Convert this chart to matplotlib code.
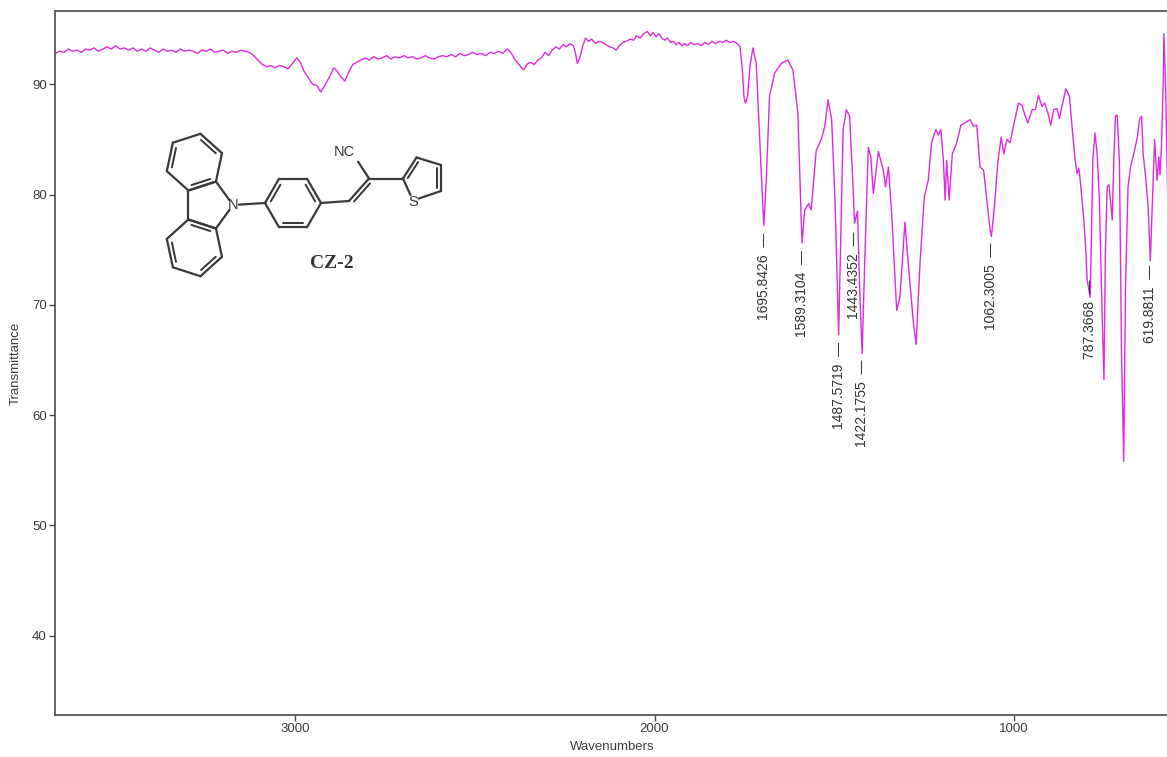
import numpy as np
import matplotlib
matplotlib.use("Agg")
import matplotlib.pyplot as plt

# ---------------- data ----------------
wavenumber = [
    3668, 3656, 3644, 3632, 3620, 3608, 3596, 3584, 3572, 3560, 3548, 3536, 3524, 3512, 3500,
    3488, 3476, 3464, 3452, 3440, 3428, 3416, 3404, 3392, 3380, 3368, 3356, 3344, 3332, 3320,
    3308, 3296, 3284, 3272, 3260, 3248, 3236, 3224, 3212, 3200, 3188, 3176, 3164, 3152, 3140,
    3128, 3116, 3104, 3092, 3080, 3068, 3056, 3044, 3032, 3020, 3008, 2996, 2986, 2976, 2964,
    2952, 2940, 2929, 2918, 2906, 2893, 2884, 2874, 2862, 2850, 2840, 2829, 2818,
    2806, 2794, 2782, 2770, 2758, 2746, 2734, 2722, 2710, 2698, 2686, 2674, 2662, 2650, 2638,
    2626, 2614, 2602, 2590, 2578, 2566, 2554, 2542, 2530, 2518, 2506, 2494, 2482, 2470, 2458,
    2446, 2434, 2422, 2410, 2400,
    2390, 2380, 2370, 2364, 2356, 2345, 2335, 2325, 2315, 2305, 2295, 2285, 2275, 2265, 2255,
    2245, 2235, 2226, 2220, 2215, 2208, 2200, 2192, 2184, 2175, 2165, 2155, 2145, 2135, 2125,
    2115, 2107, 2098, 2088, 2078, 2068, 2058, 2050, 2040, 2030, 2020, 2012, 2004, 1996, 1988,
    1980, 1972, 1964, 1956, 1948, 1940, 1932, 1924, 1916, 1908, 1900, 1890, 1880, 1870, 1860,
    1850, 1840, 1830, 1820, 1810, 1800, 1790, 1780, 1770, 1762, 1756, 1751, 1747, 1741, 1734,
    1726, 1717, 1703, 1695.8, 1689, 1680, 1666, 1647, 1629, 1615, 1601, 1592, 1589.3, 1582,
    1571, 1564, 1550, 1536, 1526, 1517, 1507, 1498, 1487.6, 1475, 1466, 1457, 1447, 1443.4,
    1435, 1429, 1422.2, 1415, 1405, 1398, 1391, 1377, 1363, 1357, 1349, 1340, 1326, 1317,
    1310, 1303, 1294, 1280, 1272, 1261, 1249, 1238, 1229, 1217, 1210, 1203, 1196, 1191, 1187,
    1180, 1171, 1159, 1147, 1131, 1122, 1112, 1103, 1094, 1084, 1075, 1066, 1062.3, 1054, 1044,
    1035, 1028, 1019, 1010, 1001, 987, 977, 968, 961, 949, 940, 931, 922, 914, 905,
    897, 889, 880, 873, 866, 855, 845, 838, 830, 824, 819, 815, 805, 799, 796,
    787.4, 785, 780, 774, 768, 762, 756, 749, 745, 740, 735, 731, 726, 721, 717,
    712, 706, 700, 694, 689, 682, 675, 666, 656, 650, 644, 640, 633, 626, 619.9,
    615, 608, 601, 596, 593, 589, 584, 582, 577, 574, 571, 567,
]
transmittance = [
    92.8, 93.0, 92.9, 93.2, 93.0, 93.1, 92.9, 93.2, 93.1, 93.3, 93.0, 93.2, 93.4, 93.2, 93.5,
    93.2, 93.3, 93.1, 93.3, 93.0, 93.2, 93.0, 93.3, 93.1, 92.9, 93.2, 93.0, 93.1, 92.9, 93.2,
    93.0, 93.1, 93.0, 92.8, 93.1, 93.0, 93.2, 92.9, 93.0, 93.1, 92.8, 93.0, 92.9, 93.1, 93.0,
    92.9, 92.6, 92.2, 91.8, 91.6, 91.7, 91.5, 91.7, 91.6, 91.4, 91.9, 92.4, 92.0, 91.2, 90.6,
    90.0, 89.9, 89.3, 89.9, 90.6, 91.5, 91.2, 90.7, 90.3, 91.2, 91.8, 92.0, 92.2,
    92.4, 92.2, 92.5, 92.3, 92.4, 92.6, 92.3, 92.5, 92.4, 92.6, 92.4, 92.5, 92.3, 92.4, 92.6,
    92.4, 92.3, 92.5, 92.6, 92.5, 92.7, 92.5, 92.8, 92.6, 92.7, 92.9, 92.7, 92.8, 92.6, 92.9,
    92.8, 93.0, 92.8, 93.2, 92.9,
    92.3, 91.9, 91.5, 91.3, 91.8, 92.0, 91.8, 92.2, 92.4, 92.9, 92.6, 93.1, 93.4, 93.2, 93.6,
    93.4, 93.7, 93.5, 92.8, 91.9, 92.4, 93.5, 94.2, 93.9, 94.1, 93.7, 93.9, 93.8, 93.6, 93.4,
    93.3, 93.1, 93.5, 93.8, 93.9, 94.1, 94.0, 94.4, 94.2, 94.6, 94.8, 94.4, 94.7, 94.3, 94.6,
    94.2, 94.0, 94.2, 93.8, 93.9, 93.6, 93.8, 93.5, 93.7, 93.5, 93.8, 93.6, 93.7, 93.5, 93.8,
    93.6, 93.9, 93.7, 93.9, 93.8, 94.0, 93.8, 93.9, 93.7, 93.4, 91.5, 88.8, 88.3, 88.9, 91.8,
    93.3, 91.9, 82.0, 77.2, 81.3, 88.9, 91.0, 91.9, 92.2, 91.3, 87.4, 78.0, 75.6, 78.6,
    79.2, 78.6, 84.0, 85.0, 86.2, 88.6, 86.8, 79.8, 67.3, 85.9, 87.7, 87.1, 80.4, 77.4,
    78.5, 71.4, 65.6, 73.8, 84.3, 83.4, 80.1, 83.9, 82.2, 80.7, 82.5, 78.3, 69.5, 70.7,
    74.1, 77.5, 73.8, 68.6, 66.4, 73.8, 79.8, 81.3, 84.7, 85.9, 85.4, 85.9, 83.1, 79.5, 83.1,
    79.5, 83.7, 84.7, 86.3, 86.6, 86.8, 86.2, 86.3, 82.5, 82.2, 79.5, 76.8, 76.2, 78.9, 83.1,
    85.2, 83.7, 85.0, 84.7, 86.2, 88.3, 88.1, 87.1, 86.5, 87.7, 87.7, 89.0, 88.0, 88.3, 87.4,
    86.3, 87.7, 87.8, 86.9, 88.0, 89.6, 88.9, 86.2, 83.4, 81.9, 82.4, 81.3, 77.7, 74.7, 72.3,
    70.7, 74.1, 83.1, 85.6, 83.7, 79.8, 71.6, 63.2, 74.7, 80.7, 80.9, 79.5, 77.7, 83.7, 87.1,
    87.2, 83.1, 65.6, 55.8, 71.6, 80.7, 82.5, 83.7, 85.2, 86.8, 87.1, 83.7, 81.6, 78.9, 74.0,
    78.5, 85.0, 81.3, 83.4, 81.8, 84.3, 90.0, 94.6, 89.5, 84.0, 78.6, 86.0,
]
peak_labels = ["1695.8426", "1589.3104", "1487.5719", "1443.4352",
               "1422.1755", "1062.3005", "787.3668", "619.8811"]
peak_marker_T = [76.5, 75.0, 66.6, 76.6, 65.0, 75.6, 72.3, 73.6]
x_ticks = [3000, 2000, 1000]
y_ticks = [40, 50, 60, 70, 80, 90]

# ---------------- style ----------------
plt.rcParams['font.family'] = ['Liberation Sans Narrow', 'Liberation Sans', 'DejaVu Sans']
TXT = '#3c3c3c'
SPINE = '#4a4a4a'
LINE = '#DD2BDD'

W, H = 1167, 757
fig = plt.figure(figsize=(W / 100, H / 100), dpi=100)
ax = fig.add_axes([55 / W, (H - 715) / H, 1 - 55 / W + 0.002, (715 - 11) / H])

ax.plot(wavenumber, transmittance, color=LINE, lw=1.0)
ax.set_xlim(3669, 567)
ax.set_ylim(32.8, 96.65)
ax.set_xticks(x_ticks)
ax.set_yticks(y_ticks)
ax.tick_params(axis='both', direction='out', length=4, width=1, color=SPINE,
               labelcolor=TXT, labelsize=9.5, pad=2)
for s in ['left', 'bottom', 'top']:
    ax.spines[s].set_color(SPINE)
    ax.spines[s].set_linewidth(1.2)
ax.spines['right'].set_visible(False)
ax.set_xlabel('Wavenumbers', color=TXT, fontsize=9.5, labelpad=4)
ax.set_ylabel('Transmittance', color=TXT, fontsize=9.5, labelpad=7)

for lab, ty in zip(peak_labels, peak_marker_T):
    ax.text(float(lab), ty, lab + '  \u2014', rotation=90, ha='center', va='top',
            fontsize=10, color='#333333')

# ---------------- molecule sketch (overlay in pixel coords) ----------------
mol = fig.add_axes([0, 0, 1, 1])
mol.set_xlim(0, W)
mol.set_ylim(H, 0)
mol.axis('off')
MC = '#3a3a3a'
LW = 1.6


def seg(p, q, s1=0.0, s2=0.0):
    p = np.asarray(p, float); q = np.asarray(q, float)
    d = q - p
    u = d / np.linalg.norm(d)
    a = p + u * s1
    b = q - u * s2
    mol.plot([a[0], b[0]], [a[1], b[1]], color=MC, lw=LW, solid_capstyle='round')


def inner(p, q, c, off=4.2, shrink=0.16):
    p = np.asarray(p, float); q = np.asarray(q, float); c = np.asarray(c, float)
    m = (p + q) / 2
    d = q - p
    nrm = np.array([-d[1], d[0]]) / np.linalg.norm(d)
    if np.dot(c - m, nrm) < 0:
        nrm = -nrm
    a = p + d * shrink + nrm * off
    b = q - d * shrink + nrm * off
    mol.plot([a[0], b[0]], [a[1], b[1]], color=MC, lw=LW * 0.9, solid_capstyle='round')


def pt(c, r, ang):
    return np.array([c[0] + r * np.cos(np.radians(ang)), c[1] - r * np.sin(np.radians(ang))])


L = 29.0
N = np.array([233.0, 205.0])
R5 = L / (2 * np.sin(np.radians(36)))
c5 = N - np.array([R5, 0])
P = {a: pt(c5, R5, a) for a in (0, 72, 144, 216, 288)}
seg(P[72], N, 0, 6); seg(N, P[288], 6, 0)
seg(P[72], P[144]); seg(P[216], P[288]); seg(P[144], P[216])


def fused_ring(A, B, out_ang):
    M = (A + B) / 2
    cH = pt(M, L * np.sqrt(3) / 2, out_ang)
    angA = np.degrees(np.arctan2(-(A[1] - cH[1]), A[0] - cH[0]))
    angB = np.degrees(np.arctan2(-(B[1] - cH[1]), B[0] - cH[0]))
    step = 60 if ((angB - angA) % 360) > 180 else -60
    verts = [pt(cH, L, angA + step * k) for k in range(6)]
    for k in range(6):
        seg(verts[k], verts[(k + 1) % 6])
    for k in (1, 3, 5):
        inner(verts[k], verts[(k + 1) % 6], cH)
    return cH


fused_ring(P[72], P[144], 108)
fused_ring(P[288], P[216], 252)
mol.text(N[0], N[1], 'N', ha='center', va='center', fontsize=10.5, color=MC,
         family=['Liberation Sans', 'DejaVu Sans'])

# phenyl
cp = np.array([293.0, 203.0])
ph = [pt(cp, 28, a) for a in (180, 120, 60, 0, 300, 240)]
for k in range(6):
    seg(ph[k], ph[(k + 1) % 6])
for k in (0, 2, 4):
    inner(ph[k], ph[(k + 1) % 6], cp)
seg(N, ph[0], 6, 0)

# vinyl, nitrile, thiophene
C1 = np.array([349.0, 201.0])
C2 = np.array([369.0, 178.5])
seg(ph[3], C1)
seg(C1, C2)
inner(C1, C2, np.array([385.0, 200.0]), off=4.0, shrink=0.1)
seg(C2, np.array([357.0, 160.0]), 0, 2)
mol.text(344, 152, 'NC', ha='center', va='center', fontsize=10.5, color=MC,
         family=['Liberation Sans', 'DejaVu Sans'])
T2 = np.array([403.0, 178.5]); T3 = np.array([416.5, 157.5])
T4 = np.array([441.0, 165.0]); T5 = np.array([441.0, 191.0]); S = np.array([413.0, 200.5])
seg(C2, T2)
seg(T2, T3); seg(T3, T4); seg(T4, T5)
seg(T5, S, 0, 6); seg(S, T2, 6, 0)
tc = np.array([423.0, 178.0])
inner(T2, T3, tc, off=3.8, shrink=0.12)
inner(T4, T5, tc, off=3.8, shrink=0.12)
mol.text(S[0], S[1] + 1, 'S', ha='center', va='center', fontsize=10.5, color=MC,
         family=['Liberation Sans', 'DejaVu Sans'])
mol.text(332, 264, 'CZ-2', ha='center', va='center', fontsize=14, fontweight='bold',
         color='#333333', family=['Liberation Serif', 'DejaVu Serif'])

fig.savefig('out.png', dpi=100)
